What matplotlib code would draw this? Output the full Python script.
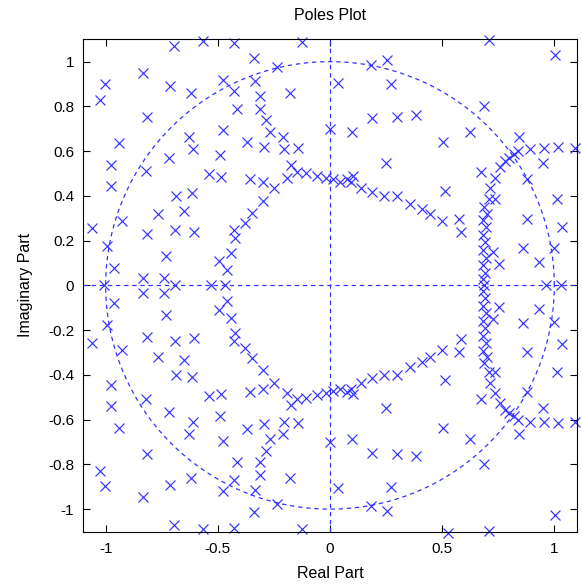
import numpy as np
import matplotlib.pyplot as plt

plt.rcParams['font.family'] = ['Liberation Sans', 'DejaVu Sans']

# poles in the upper half plane (conjugates are added below)
re_up = [-0.697, -0.564, -0.426, -0.126, 0.709, 0.526,
         -0.833, -1.005, -1.023, -0.712, -0.620, -0.475, -0.430, -0.415,
         -0.815, -0.475, -0.629, -0.612, -0.942, -0.368, -0.492, -0.717,
         -0.339, -0.237, -0.335, -0.312, -0.178, -0.312, -0.285, -0.267,
         -0.211, -0.204, -0.141, -0.293, 0.000, 0.037, 0.182, 0.252,
         0.270, 0.099, 0.189, 0.297, 0.382, 0.504, 0.626, 0.688,
         0.842, 1.005, 0.249, 0.512, 0.671, 0.949, 0.878, 1.010,
         1.036, 0.998, 0.931, 0.862, 0.880,
         0.838, 0.891, 0.954, 1.016, 1.092,
         0.820, 0.800, 0.778, 0.756, 0.734, 0.715, 0.709, 0.734,
         0.685, 0.700, 0.680, 0.695, 0.680, 0.690, 0.680, 0.695, 0.680, 0.690, 0.680,
         0.727, 0.753,
         -0.460, -0.495, -0.441, -0.423, -0.428, -0.378, -0.346, -0.298,
         -0.249, -0.190, -0.173, -0.148, -0.109, -0.057, -0.018, 0.012,
         0.044, 0.078, 0.101, 0.093, 0.139, 0.187, 0.240, 0.297,
         0.356, 0.408, 0.445, 0.499, 0.573, 0.586,
         -0.358, -0.299, -0.541, -0.487,
         -0.976, -0.976, -0.820, -0.685, -0.613, -0.768, -0.653, -0.925,
         -1.063, -0.815, -0.690, -0.607, -0.993, -0.963, -0.730, -0.832, -0.742]
im_up = [1.072, 1.090, 1.083, 1.087, 1.098, 1.108,
         0.947, 0.898, 0.829, 0.891, 0.859, 0.917, 0.870, 0.788,
         0.752, 0.696, 0.663, 0.611, 0.636, 0.640, 0.583, 0.568,
         1.015, 0.978, 0.913, 0.846, 0.860, 0.788, 0.740, 0.687,
         0.665, 0.609, 0.613, 0.619, 0.700, 0.904, 0.984, 1.008,
         0.899, 0.685, 0.749, 0.754, 0.762, 0.639, 0.685, 0.800,
         0.665, 1.028, 0.548, 0.422, 0.508, 0.549, 0.476, 0.386,
         0.260, 0.165, 0.104, 0.167, 0.296,
         0.601, 0.609, 0.612, 0.617, 0.612,
         0.585, 0.570, 0.555, 0.527, 0.480, 0.435, 0.386, 0.386,
         0.349, 0.319, 0.293, 0.259, 0.225, 0.192, 0.159, 0.124, 0.090, 0.057, 0.027,
         0.150, 0.095,
         0.070, 0.108, 0.146, 0.211, 0.249, 0.278, 0.325, 0.378,
         0.436, 0.479, 0.536, 0.508, 0.503, 0.488, 0.480, 0.474,
         0.464, 0.476, 0.487, 0.461, 0.435, 0.416, 0.399, 0.399,
         0.363, 0.343, 0.320, 0.288, 0.296, 0.239,
         0.476, 0.461, 0.496, 0.484,
         0.537, 0.444, 0.510, 0.399, 0.411, 0.321, 0.333, 0.288,
         0.256, 0.230, 0.249, 0.237, 0.176, 0.077, 0.133, 0.033, 0.033]
# real poles
re_real = [-1.008, -0.690, -0.529, -0.470, 0.685, 0.964, 1.031]

re_all = np.concatenate([re_up, re_up, re_real])
im_all = np.concatenate([im_up, -np.array(im_up), np.zeros(len(re_real))])

# matlab draws a marker only when its centre is inside the box
keep = (np.abs(re_all) <= 1.1) & (im_all <= 1.1) & (im_all >= -1.11)

fig = plt.figure(figsize=(5.82, 5.86), dpi=100)
ax = fig.add_axes([0.143, 0.093, 0.848, 0.840])

col = (0.2, 0.2, 1.0)
t = np.linspace(0, 2 * np.pi, 400)
ax.plot(np.cos(t), np.sin(t), color=col, lw=0.9, ls=(0, (3.5, 3)))
ax.axhline(0, color=col, lw=0.9, ls=(0, (3.5, 3)))
ax.axvline(0, color=col, lw=0.9, ls=(0, (3.5, 3)))
ax.plot(re_all[keep], im_all[keep], 'x', color=col, ms=7.5, mew=0.85,
        clip_on=False)

ax.set_xlim(-1.1, 1.1)
ax.set_ylim(-1.1, 1.1)
ax.set_xticks([-1, -0.5, 0, 0.5, 1])
ax.set_xticklabels(['-1', '-0.5', '0', '0.5', '1'])
ax.set_yticks(np.round(np.arange(-1, 1.01, 0.2), 1))
ax.set_yticklabels(['-1', '-0.8', '-0.6', '-0.4', '-0.2', '0',
                    '0.2', '0.4', '0.6', '0.8', '1'])
ax.tick_params(direction='in', top=True, right=True, length=5,
               labelsize=11, width=0.8)
ax.tick_params(axis='x', pad=7.5)
ax.tick_params(axis='y', pad=6.5)
for s in ax.spines.values():
    s.set_linewidth(0.8)

ax.set_title('Poles Plot', fontsize=11.5, pad=14)
ax.set_xlabel('Real Part', fontsize=11.5, labelpad=7)
ax.set_ylabel('Imaginary Part', fontsize=11.5, labelpad=11)

fig.savefig('out.png', dpi=100)
